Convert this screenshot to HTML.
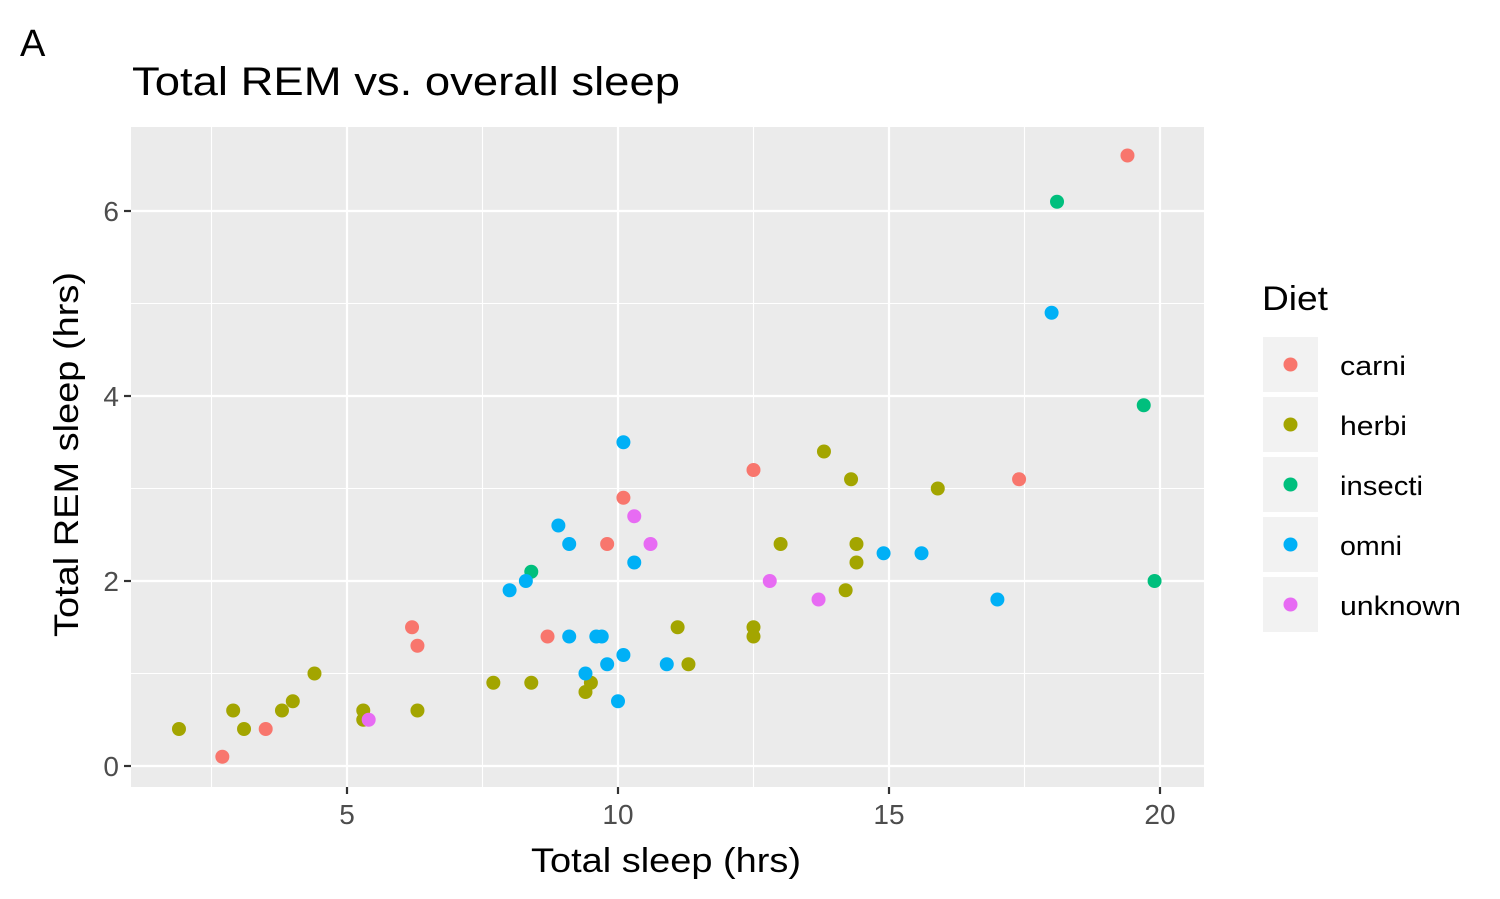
<!DOCTYPE html>
<html><head><meta charset="utf-8"><style>
body{margin:0;background:#fff}
svg{display:block;font-family:"Liberation Sans",Arial,sans-serif}
</style></head><body>
<svg id="chart" width="1500" height="899">
<text x="20" y="56" font-size="38">A</text>
<text x="132" y="95" font-size="40" textLength="548" lengthAdjust="spacingAndGlyphs">Total REM vs. overall sleep</text>
<rect x="131" y="127" width="1073" height="660" fill="#EBEBEB"/>
<g id="grid"></g><g id="pts"></g><g id="axes"></g>
<text x="531" y="872" font-size="34" textLength="270" lengthAdjust="spacingAndGlyphs">Total sleep (hrs)</text>
<text transform="translate(78,637) rotate(-90)" font-size="34" textLength="365" lengthAdjust="spacingAndGlyphs">Total REM sleep (hrs)</text>
<text x="1262" y="310" font-size="34" textLength="66" lengthAdjust="spacingAndGlyphs">Diet</text>
<g id="legend"></g>
</svg>
<script>
const xTicks=[5,10,15,20];
const yTicks=[0,2,4,6];
const diets=["carni","herbi","insecti","omni","unknown"];
const labelW=[66,67,83,62,121];
const colors=["#F8766D","#A3A500","#00BF7D","#00B0F6","#E76BF3"];
const carniX=[2.7,3.5,6.2,6.3,8.7,9.8,10.1,12.5,17.4,19.4];
const carniY=[0.1,0.4,1.5,1.3,1.4,2.4,2.9,3.2,3.1,6.6];
const herbiX=[1.9,2.9,3.1,3.8,4.0,4.4,5.3,5.3,6.3,7.7,8.4,9.4,9.5,11.1,11.3,12.5,12.5,13.0,13.8,14.2,14.3,14.4,14.4,15.9];
const herbiY=[0.4,0.6,0.4,0.6,0.7,1.0,0.6,0.5,0.6,0.9,0.9,0.8,0.9,1.5,1.1,1.5,1.4,2.4,3.4,1.9,3.1,2.2,2.4,3.0];
const insectiX=[8.4,18.1,19.7,19.9];
const insectiY=[2.1,6.1,3.9,2.0];
const omniX=[8.0,8.3,8.9,9.1,9.1,9.4,9.6,9.7,9.8,10.0,10.1,10.1,10.3,10.9,14.9,15.6,17.0,18.0];
const omniY=[1.9,2.0,2.6,2.4,1.4,1.0,1.4,1.4,1.1,0.7,1.2,3.5,2.2,1.1,2.3,2.3,1.8,4.9];
const unknownX=[5.4,10.3,10.6,12.8,13.7];
const unknownY=[0.5,2.7,2.4,2.0,1.8];
const seriesX=[carniX,herbiX,insectiX,omniX,unknownX];
const seriesY=[carniY,herbiY,insectiY,omniY,unknownY];
const NS="http://www.w3.org/2000/svg";
const L=131,R=1204,T=127,B=787;
const sx=v=>76+v*54.2;
const sy=v=>766-v*92.5;
function mk(tag,attrs,parent){const e=document.createElementNS(NS,tag);for(const k in attrs)e.setAttribute(k,attrs[k]);parent.appendChild(e);return e;}
const grid=document.getElementById('grid'),axes=document.getElementById('axes');
for(let i=0;i<xTicks.length;i++){
 const m=xTicks[i]-2.5;
 if(sx(m)>L){const gm=mk('line',{x1:sx(m),x2:sx(m),y1:T,y2:B,stroke:'#fff','stroke-width':1.1},grid);
 }
 const g=mk('line',{x1:sx(xTicks[i]),x2:sx(xTicks[i]),y1:T,y2:B,stroke:'#fff','stroke-width':2.2},grid);
 
 const t=mk('line',{x1:sx(xTicks[i]),x2:sx(xTicks[i]),y1:B,y2:B+7,stroke:'#333','stroke-width':2.2},axes);
 
 const l=mk('text',{x:sx(xTicks[i]),y:B+37,'font-size':28,fill:'#4D4D4D','text-anchor':'middle'},axes);
 l.textContent=xTicks[i];
}
for(let i=0;i<yTicks.length;i++){
 const m=yTicks[i]+1;
 const gm=mk('line',{x1:L,x2:R,y1:sy(m),y2:sy(m),stroke:'#fff','stroke-width':1.1},grid);
 
 const g=mk('line',{x1:L,x2:R,y1:sy(yTicks[i]),y2:sy(yTicks[i]),stroke:'#fff','stroke-width':2.2},grid);
 
 const t=mk('line',{x1:L-7,x2:L,y1:sy(yTicks[i]),y2:sy(yTicks[i]),stroke:'#333','stroke-width':2.2},axes);
 
 const l=mk('text',{x:L-12,y:sy(yTicks[i])+10,'font-size':28,fill:'#4D4D4D','text-anchor':'end'},axes);
 l.textContent=yTicks[i];
}
const pts=document.getElementById('pts'),leg=document.getElementById('legend');
for(let s=0;s<diets.length;s++){
 for(let i=0;i<seriesX[s].length;i++){
  const c=mk('circle',{cx:sx(seriesX[s][i]),cy:sy(seriesY[s][i]),r:7,fill:colors[s]},pts);
  
 }
 const y0=337+s*60;
 const k=mk('rect',{x:1263,y:y0,width:55,height:55,fill:'#F2F2F2'},leg);
 
 const kc=mk('circle',{cx:1290.5,cy:y0+27.5,r:7,fill:colors[s]},leg);
 
 const kt=mk('text',{x:1340,y:y0+38,'font-size':27,textLength:labelW[s],lengthAdjust:'spacingAndGlyphs'},leg);
 kt.textContent=diets[s];
}
</script>
</body></html>
